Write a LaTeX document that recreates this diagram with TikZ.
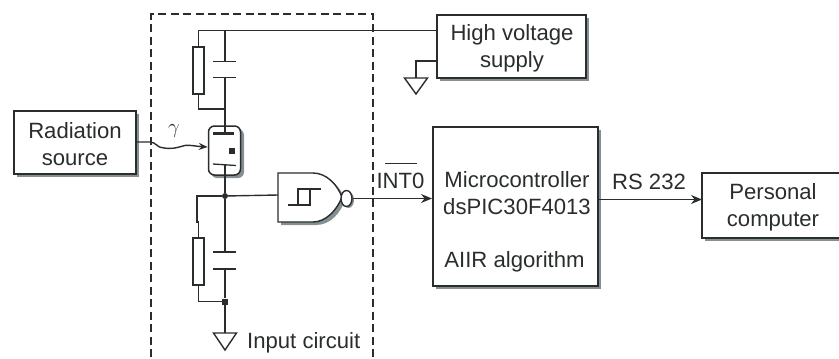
\documentclass[tikz,border=0pt]{standalone}
\usepackage{fontspec}
\setmainfont{Liberation Sans}
\usetikzlibrary{arrows.meta,shapes.geometric}
\definecolor{ink}{HTML}{2A2D2E}
\definecolor{greyshadow}{HTML}{868F93}
\tikzset{
  wire/.style={draw=ink,line width=1.4bp},
  arrowwire/.style={wire,-{Stealth[length=11bp,width=9bp]}},
  blockbox/.style={draw=ink,line width=1.6bp,fill=white,inner sep=0pt,anchor=north west},
  lbl/.style={font=\fontsize{22.2}{27}\selectfont,text=ink,inner sep=0pt,align=center},
  plate/.style={draw=ink,line width=1.3bp},
  resistor/.style={draw=ink,fill=white,line width=1.4bp,minimum width=11bp,minimum height=47bp,inner sep=0pt},
  groundsym/.style={draw=ink,line width=1.4bp},
  junction/.style={circle,fill=ink,minimum size=6bp,inner sep=0pt},
  sqjunction/.style={rectangle,fill=ink,minimum size=6bp,inner sep=0pt},
}
\begin{document}
\begin{tikzpicture}[x=1bp,y=-1bp]
\useasboundingbox (0,0) rectangle (839,358);

% dashed input-circuit frame
\draw[ink,line width=1.3bp,dash pattern=on 8bp off 4.5bp] (151,357) -- (151,14) -- (373,14) -- (373,357);

% shadows
\fill[greyshadow] (17,114) rectangle (139,177);
\fill[greyshadow] (440,18) rectangle (589,81);
\fill[greyshadow] (436,130) rectangle (600.5,288.5);
\fill[greyshadow] (705,177) rectangle (839,241);

% blocks
\node[blockbox,minimum width=122bp,minimum height=63bp] (rad) at (13,110) {};
\node[blockbox,minimum width=149bp,minimum height=63bp] (hv) at (436,14) {};
\node[blockbox,minimum width=165bp,minimum height=159bp] (mcu) at (432,126) {};
\fill[white] (702,173) rectangle (839,238);
\draw[ink,line width=1.6bp] (839,173) -- (702,173) -- (702,238) -- (839,238);
\coordinate (pcw) at (702,199.5);
\node[lbl] (radt) at (75,144) {Radiation\\source};
\node[lbl] (hvt) at (512,48) {High voltage\\supply};
\node[lbl] (pct) at (773,207) {Personal\\computer};
\node[lbl] (mcu1) at (517,180) {Microcontroller};
\node[lbl] (mcu2) at (517,207) {dsPIC30F4013};
\node[lbl] (mcu3) at (514.5,262) {AIIR algorithm};
\node[lbl] (rs) at (649,182) {RS 232};
\node[lbl] (int) at (400.5,181) {INT0};
\draw[ink,line width=1.3bp] (385,163.5) -- (417,163.5);
\node[lbl,anchor=west] (inc) at (247,343) {Input circuit};
\node[inner sep=0pt,text=ink,font=\fontsize{21}{24}\selectfont] (gam) at (174,131) {$\gamma$};

% top RC
\coordinate (topL) at (198.5,30.5);
\coordinate (topC) at (225,30.5);
\coordinate (hvin) at (hv.west |- topL);
\node[resistor] (r1) at (198.5,70.5) {};
\coordinate (c1a) at (225,61.5);
\coordinate (c1b) at (225,77.5);
\coordinate (j1) at (225,109);
\draw[wire] (hvin) -- (topL) -- (r1.north);
\draw[wire] (r1.south) -- (198.5,109) -- (j1);
\draw[wire] (topC) -- (c1a);
\draw[plate] (213,61.5) -- (236,61.5);
\draw[plate] (213,77.5) -- (236,77.5);
\draw[wire] (c1b) -- (j1);

% detector tube
\fill[greyshadow,rounded corners=6bp] (211,129) rectangle (244,178);
\node[draw=ink,fill=white,line width=1.5bp,rounded corners=6bp,minimum width=32bp,minimum height=49bp,inner sep=0pt] (tube) at (224.5,150.5) {};
\draw[wire] (j1) -- (225,133.5);
\draw[ink,line width=3.4bp] (213,133.5) -- (234,133.5);
\fill[ink] (229,147.5) rectangle (235,153.5);
\draw[plate] (213,164) -- (236,165.5);

% node below tube
\node[junction] (j2) at (225,196) {};
\draw[wire] (225,165) -- (j2);

% bottom RC
\node[resistor] (r2) at (198.5,261.5) {};
\node[sqjunction] (j3) at (225,301.5) {};
\draw[wire] (j2) -- (197,196) -- (197,222) -- (198.5,222) -- (r2.north);
\draw[wire] (r2.south) -- (198.5,301.5) -- (j3);
\draw[wire] (j2) -- (225,252);
\draw[plate] (213,252) -- (236,252);
\draw[plate] (213,269) -- (236,269);
\draw[wire] (225,269) -- (j3);
\coordinate (g1) at (225,333);
\draw[wire] (j3) -- (g1);
\draw[groundsym] (213.5,333) -- (236.5,333) -- (225,350) -- cycle;

% HV ground
\coordinate (hvg) at (436,61);
\coordinate (g2) at (416,78);
\draw[wire] (hvg) -- (g2 |- hvg) -- (g2);
\draw[groundsym] (404.5,78) -- (427.5,78) -- (416,94) -- cycle;

% gate
\fill[greyshadow] (281,176) -- (316,176) .. controls (331,176) and (341,188) .. (345,200) .. controls (341,212) and (331,225) .. (316,225) -- (281,225) -- cycle;
\draw[ink,fill=white,line width=1.4bp] (278,173) -- (313,173) .. controls (326,173) and (337,184) .. (342,197) .. controls (337,210) and (326,222) .. (313,222) -- (278,222) -- cycle;
\coordinate (gin) at (278,195);
\draw[wire] (j2) -- (gin);
\draw[ink,line width=1.4bp] (288,205) -- (310,205) -- (310,189);
\draw[ink,line width=1.4bp] (298,205) -- (298,189) -- (321,189);
\fill[greyshadow] (348.5,200) ellipse [x radius=5.5bp,y radius=8bp];
\node[ellipse,draw=ink,fill=white,line width=1.4bp,minimum width=11bp,minimum height=16bp,inner sep=0pt] (bub) at (346.5,198.5) {};

% connectors
\draw[arrowwire] (bub.east) -- (mcu.west |- bub.east);
\coordinate (mcuout) at (mcu.east |- pcw);
\draw[arrowwire] (mcuout) -- (pcw);
\coordinate (radout) at (rad.east |- 0,142);
\coordinate (tubein) at (tube.west |- 0,147);
\draw[wire,-{Stealth[length=9bp,width=7bp]}] (radout) -- (150,142) .. controls (156,142) and (157,148) .. (164,148)
  .. controls (172,149) and (176,148) .. (181,146.5) .. controls (187,144) and (192,146) .. (tubein);
\end{tikzpicture}
\end{document}
